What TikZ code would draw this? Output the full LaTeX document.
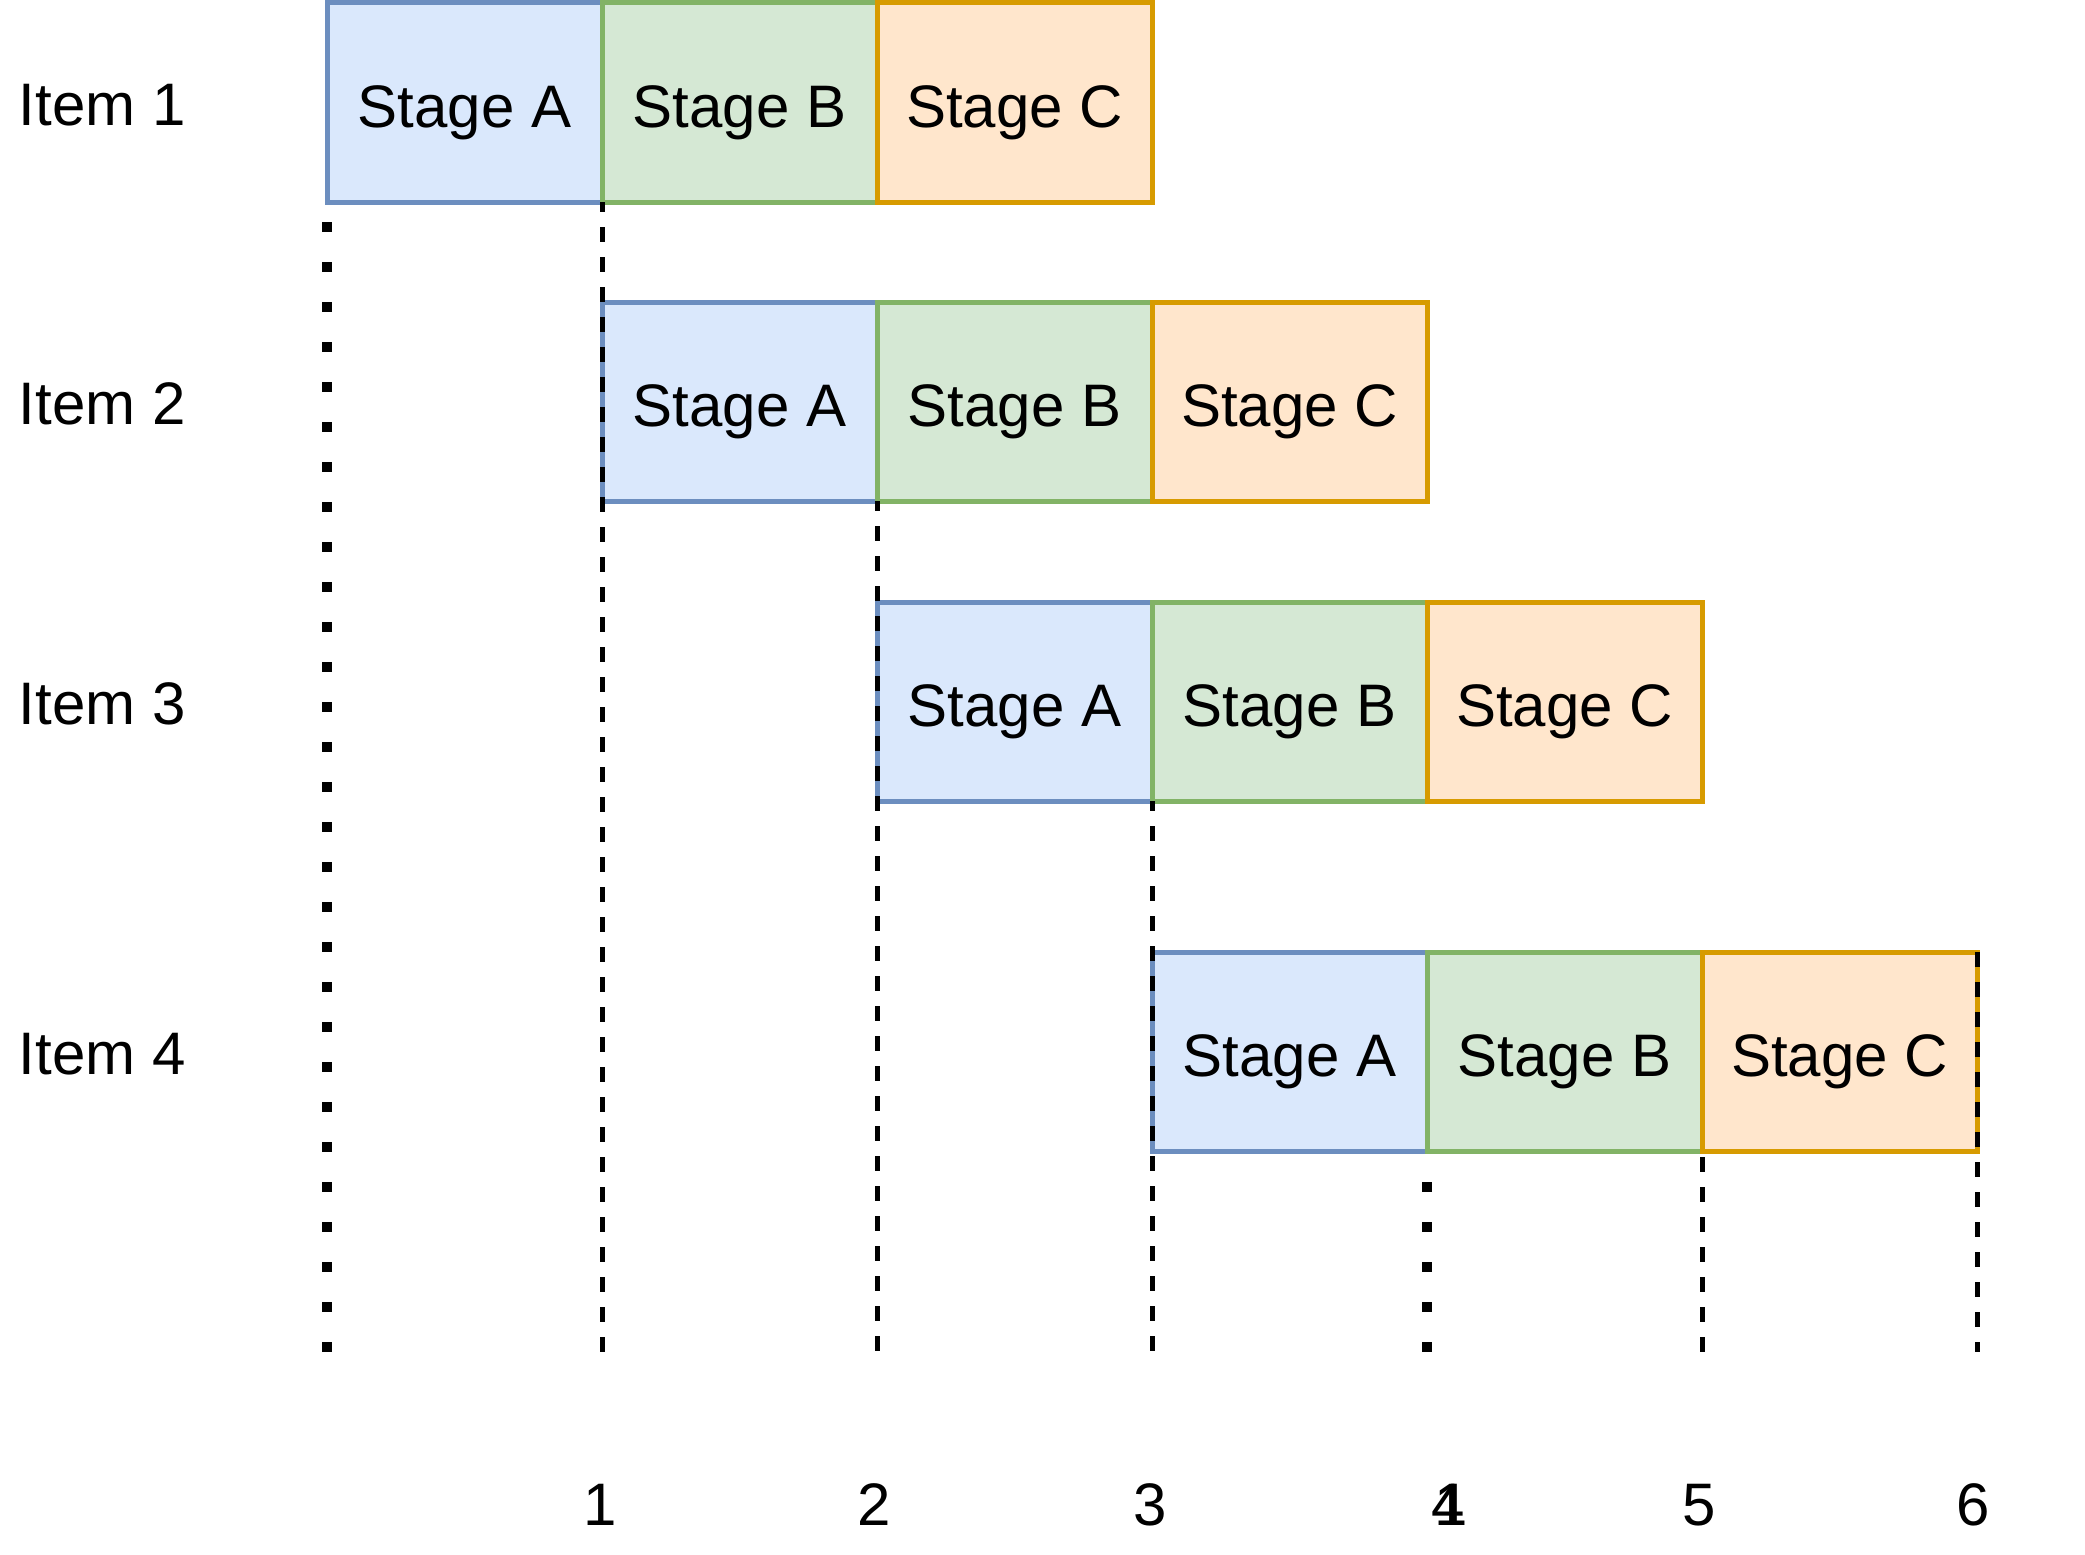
\documentclass[tikz,border=0pt]{standalone}
\usepackage{fontspec}
\setmainfont{Liberation Sans}
\definecolor{blueF}{HTML}{DAE8FC}
\definecolor{blueD}{HTML}{6C8EBF}
\definecolor{greenF}{HTML}{D5E8D4}
\definecolor{greenD}{HTML}{82B366}
\definecolor{orangeF}{HTML}{FFE6CC}
\definecolor{orangeD}{HTML}{D79B00}
\begin{document}
\begin{tikzpicture}[x=1pt,y=-1pt,
  bigfont/.style={font=\fontsize{60}{72}\selectfont},
  stagebox/.style={draw, line width=5pt, minimum width=275pt, minimum height=199pt,
    inner sep=0pt, outer sep=0pt, anchor=north west, bigfont, text height=50pt, text depth=0pt},
  sa/.style={stagebox, fill=blueF, draw=blueD},
  sb/.style={stagebox, fill=greenF, draw=greenD},
  sc/.style={stagebox, fill=orangeF, draw=orangeD},
  lbl/.style={bigfont, inner sep=0pt, outer sep=0pt},
  dashline/.style={line width=5pt, dash pattern=on 15pt off 15pt},
  dotline/.style={line width=10pt, dash pattern=on 10pt off 30pt},
]
\useasboundingbox (0,0) rectangle (2085,1555);
\fill[white] (0,0) rectangle (2085,1555);

% row 1
\node[sa] (r1a) at (327,3) {Stage A};
\node[sb] (r1b) at (602,3) {Stage B};
\node[sc] (r1c) at (877,3) {Stage C};
% row 2
\node[sa] (r2a) at (602,302) {Stage A};
\node[sb] (r2b) at (877,302) {Stage B};
\node[sc] (r2c) at (1152,302) {Stage C};
% row 3
\node[sa] (r3a) at (877,602) {Stage A};
\node[sb] (r3b) at (1152,602) {Stage B};
\node[sc] (r3c) at (1427,602) {Stage C};
% row 4
\node[sa] (r4a) at (1152,952) {Stage A};
\node[sb] (r4b) at (1427,952) {Stage B};
\node[sc] (r4c) at (1702,952) {Stage C};

% item labels
\node[lbl, anchor=base west] (i1) at (19,125) {Item 1};
\node[lbl, anchor=base west] (i2) at (19,424) {Item 2};
\node[lbl, anchor=base west] (i3) at (19,724) {Item 3};
\node[lbl, anchor=base west] (i4) at (19,1074) {Item 4};

% grid line ends
\coordinate (g0t) at (327,222);
\coordinate (g0b) at (327,1352);
\coordinate (g1b) at (602,1352);
\coordinate (g2b) at (877,1352);
\coordinate (g3b) at (1152,1352);
\coordinate (g4t) at (1427,1182);
\coordinate (g4b) at (1427,1352);
\coordinate (g5b) at (1702,1352);
\coordinate (g6b) at (1977,1352);

\draw[dotline] (g0t) -- (g0b);
\draw[dashline, dash phase=5pt] (r1a.south east) -- (g1b);
\draw[dashline, dash phase=5pt] (r2a.south east) -- (g2b);
\draw[dashline, dash phase=5pt] (r3a.south east) -- (g3b);
\draw[dotline] (g4t) -- (g4b);
\draw[dashline, dash phase=24pt] (r4b.south east) -- (g5b);
\draw[dashline] (r4c.north east) -- (g6b);

% axis numbers
\node[lbl, anchor=base] (n1) at (600,1525) {1};
\node[lbl, anchor=base] (n2) at (874,1525) {2};
\node[lbl, anchor=base] (n3) at (1150,1525) {3};
\node[lbl, anchor=base] (n4b) at (1451,1525) {1};
\node[lbl, anchor=base] (n4) at (1448,1525) {4};
\node[lbl, anchor=base] (n5) at (1699,1525) {5};
\node[lbl, anchor=base] (n6) at (1973,1525) {6};
\end{tikzpicture}
\end{document}
